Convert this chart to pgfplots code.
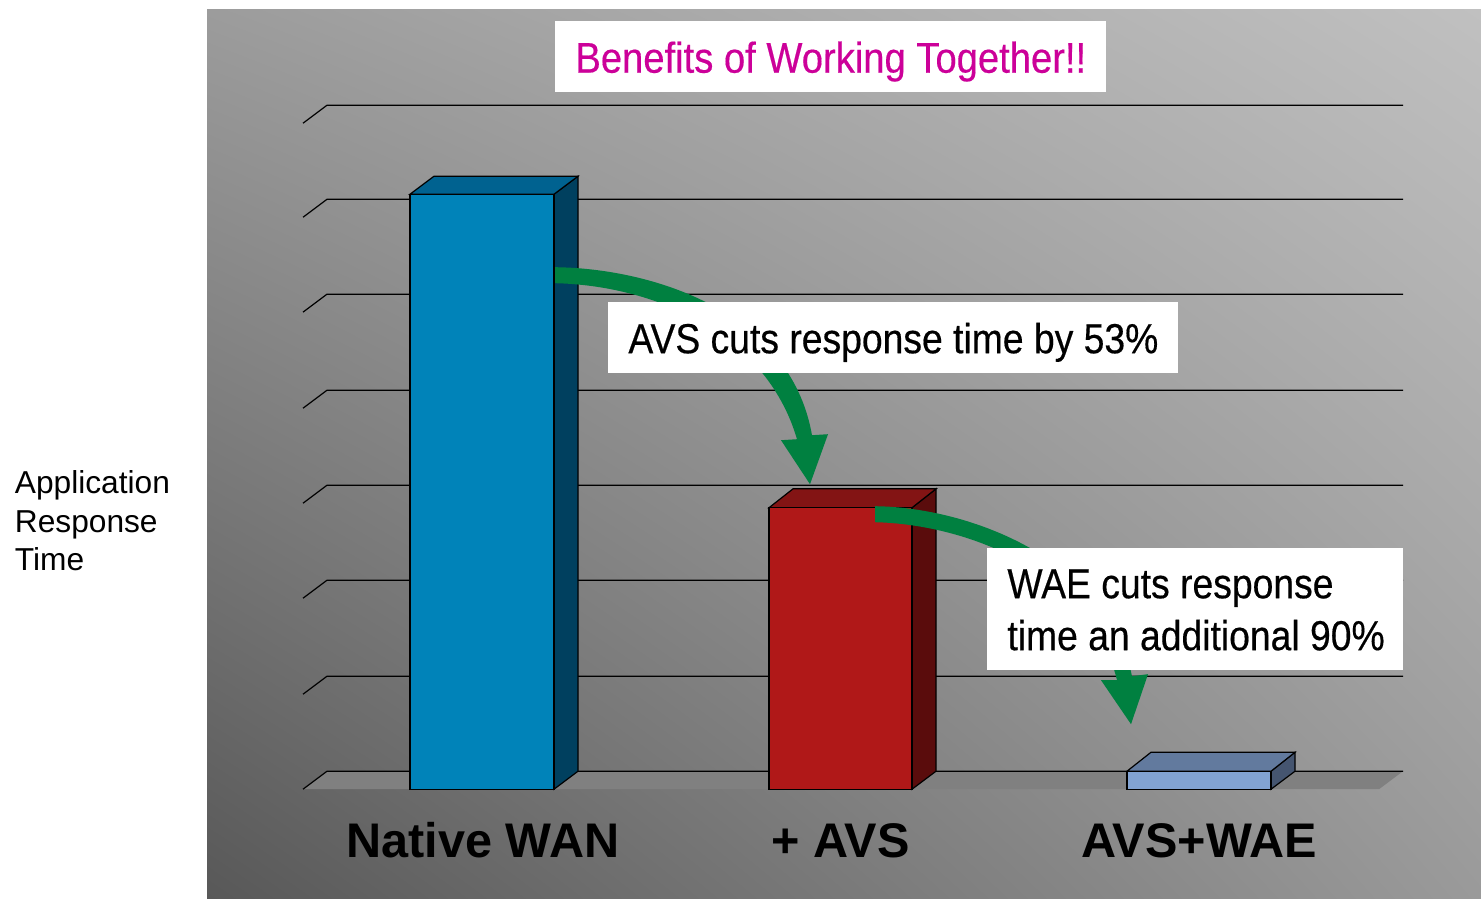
\documentclass[border=0pt]{standalone}
\usepackage{fontspec}
\setmainfont{Liberation Sans}
\newfontfamily\semibold[FakeBold=0.4]{Liberation Sans}
\usepackage{pgfplots}
\pgfplotsset{compat=1.18}
\usetikzlibrary{shadings}
\definecolor{grn}{HTML}{008040}
\definecolor{mag}{HTML}{CC0099}
\definecolor{b1}{HTML}{0083B9}\definecolor{b2}{HTML}{006290}\definecolor{b3}{HTML}{00405F}
\definecolor{r1}{HTML}{B01818}\definecolor{r2}{HTML}{831414}\definecolor{r3}{HTML}{5A0C0C}
\definecolor{l1}{HTML}{82A3D2}\definecolor{l2}{HTML}{627A9E}\definecolor{l3}{HTML}{455570}
\definecolor{bgll}{HTML}{585858}\definecolor{bgul}{HTML}{9C9C9C}
\definecolor{bgur}{HTML}{C0C0C0}\definecolor{bglr}{HTML}{9A9A9A}
\pgfplotsset{page/.style={scale only axis,width=740.5pt,height=449pt,at={(0,0)},anchor=south west,
  xmin=0,xmax=1481,axis line style={draw=none},major tick length=0pt,ytick=\empty}}
\newcommand{\cond}[2]{\scalebox{#1}[1]{#2}}
\begin{document}
\begin{tikzpicture}
% background, in picture pixels
\begin{axis}[page,y dir=reverse,ymin=0,ymax=898,xtick=\empty]
\shade[lower left=bgll,upper left=bgul,upper right=bgur,lower right=bglr]
 (axis cs:207,9) rectangle (axis cs:1481,898);
\end{axis}
% the chart: x in pixels, y in chart units (one unit per gridline)
\begin{axis}[page,ymin=-1.145,ymax=8.288,unbounded coords=jump,
  xtick={483,840.5,1199},xticklabels={Native WAN,+ AVS,AVS+WAE},
  xticklabel style={font=\fontsize{24.3}{28}\selectfont\bfseries,anchor=base,yshift=20.5pt,text=black}]
\addplot[draw=none,fill=black!50,forget plot] coordinates {(303,0)(327,0.189)(1403,0.189)(1379,0)} --cycle;
\addplot[black,line width=0.6pt,forget plot] coordinates {
(303,0)(327,0.189)(1403,0.189)(nan,nan)
(303,0.998)(327,1.187)(1403,1.187)(nan,nan)
(303,2.006)(327,2.195)(1403,2.195)(nan,nan)
(303,3.004)(327,3.193)(1403,3.193)(nan,nan)
(303,4.002)(327,4.191)(1403,4.191)(nan,nan)
(303,5.011)(327,5.2)(1403,5.2)(nan,nan)
(303,6.008)(327,6.197)(1403,6.197)(nan,nan)
(303,6.996)(327,7.185)(1403,7.185)};
% Native WAN
\addplot[fill=b3,draw=black,line width=0.6pt] coordinates {(554,0)(578,0.189)(578,6.439)(554,6.25)} --cycle;
\addplot[fill=b2,draw=black,line width=0.6pt] coordinates {(410,6.25)(434,6.439)(578,6.439)(554,6.25)} --cycle;
\addplot[fill=b1,draw=black,line width=0.6pt] coordinates {(410,0)(410,6.25)(554,6.25)(554,0)} --cycle;
% + AVS
\addplot[fill=r3,draw=black,line width=0.6pt] coordinates {(912,0)(936,0.189)(936,3.155)(912,2.957)} --cycle;
\addplot[fill=r2,draw=black,line width=0.6pt] coordinates {(769,2.957)(793,3.155)(936,3.155)(912,2.957)} --cycle;
\addplot[fill=r1,draw=black,line width=0.6pt] coordinates {(769,0)(769,2.957)(912,2.957)(912,0)} --cycle;
% AVS+WAE
\addplot[fill=l3,draw=black,line width=0.6pt] coordinates {(1271,0)(1295,0.189)(1295,0.388)(1271,0.189)} --cycle;
\addplot[fill=l2,draw=black,line width=0.6pt] coordinates {(1127,0.189)(1151,0.388)(1295,0.388)(1271,0.189)} --cycle;
\addplot[fill=l1,draw=black,line width=0.6pt] coordinates {(1127,0)(1127,0.189)(1271,0.189)(1271,0)} --cycle;
\end{axis}
% annotations, in picture pixels
\begin{axis}[page,y dir=reverse,ymin=0,ymax=898,xtick=\empty]
\fill[grn] (axis cs:555,267) .. controls (axis cs:650,268) and (axis cs:790,310) .. (axis cs:812,435)
  -- (axis cs:828,434) -- (axis cs:810,484) -- (axis cs:781,440) -- (axis cs:797,439)
  .. controls (axis cs:765,330) and (axis cs:650,285) .. (axis cs:555,283) -- cycle;
\fill[grn] (axis cs:875,506) .. controls (axis cs:970,507) and (axis cs:1108,560) .. (axis cs:1132,676)
  -- (axis cs:1148,674) -- (axis cs:1131,724) -- (axis cs:1101,680) -- (axis cs:1117,680)
  .. controls (axis cs:1090,570) and (axis cs:965,524) .. (axis cs:875,522) -- cycle;
\fill[white] (axis cs:555,21) rectangle (axis cs:1106,92);
\fill[white] (axis cs:608,302) rectangle (axis cs:1178,373);
\fill[white] (axis cs:987,548) rectangle (axis cs:1403,670);
\node[anchor=base west,inner sep=0pt,text=mag,font=\semibold\fontsize{21.5}{25}\selectfont] at (axis cs:575,72.5) {\cond{0.888}{Benefits of Working Together!!}};
\node[anchor=base west,inner sep=0pt,font=\semibold\fontsize{21}{25}\selectfont] at (axis cs:628,353) {\cond{0.888}{AVS cuts response time by 53\%}};
\node[anchor=base west,inner sep=0pt,font=\semibold\fontsize{21}{25}\selectfont] at (axis cs:1007,598) {\cond{0.888}{WAE cuts response}};
\node[anchor=base west,inner sep=0pt,font=\semibold\fontsize{21}{25}\selectfont] at (axis cs:1007,650) {\cond{0.888}{time an additional 90\%}};
\node[anchor=base west,inner sep=0pt,font=\fontsize{15.85}{19}\selectfont] at (axis cs:14.5,493) {Application};
\node[anchor=base west,inner sep=0pt,font=\fontsize{15.85}{19}\selectfont] at (axis cs:14.5,532) {Response};
\node[anchor=base west,inner sep=0pt,font=\fontsize{15.85}{19}\selectfont] at (axis cs:14.5,570) {Time};
\end{axis}
\end{tikzpicture}
\end{document}
